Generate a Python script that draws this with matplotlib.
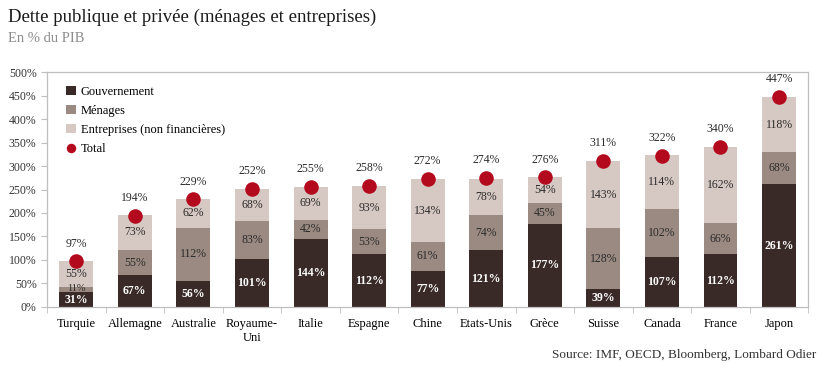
import numpy as np
import matplotlib.pyplot as plt
from matplotlib.ticker import FuncFormatter, FixedLocator

plt.rcParams['font.family'] = ['Liberation Serif', 'DejaVu Serif']

pays = ['Turquie', 'Allemagne', 'Australie', 'Royaume-\nUni', 'Italie', 'Espagne', 'Chine',
        'Etats-Unis', 'Grèce', 'Suisse', 'Canada', 'France', 'Japon']
gouvernement = [31, 67, 56, 101, 144, 112, 77, 121, 177, 39, 107, 112, 261]
menages = [11, 55, 112, 83, 42, 53, 61, 74, 45, 128, 102, 66, 68]
entreprises = [55, 73, 62, 68, 69, 93, 134, 78, 54, 143, 114, 162, 118]
total = [97, 194, 229, 252, 255, 258, 272, 274, 276, 311, 322, 340, 447]

c_gov = '#3a2a27'
c_men = '#9b8a82'
c_ent = '#d6c8c2'
c_tot = '#b40a1e'
c_axe = '#bfbfbf'

fig = plt.figure(figsize=(8.24, 3.68), dpi=100)
ax = fig.add_axes([0.057, 0.166, 0.924, 0.638])

x = np.arange(len(pays))
w = 0.58
gov = np.array(gouvernement)
men = np.array(menages)
ent = np.array(entreprises)

b1 = ax.bar(x, gov, w, color=c_gov, label='Gouvernement', zorder=2)
b2 = ax.bar(x, men, w, bottom=gov, color=c_men, label='Ménages', zorder=2)
b3 = ax.bar(x, ent, w, bottom=gov + men, color=c_ent, label='Entreprises (non financières)', zorder=2)
sc = ax.scatter(x, total, s=110, color=c_tot, label='Total', zorder=4, linewidths=0)

for i in range(len(pays)):
    ax.text(x[i], gov[i] / 2, f'{gov[i]}%', ha='center', va='center', color='white',
            fontsize=8.5, fontweight='bold', zorder=5)
    # petit segment Turquie : texte plus petit
    fs = 7.5 if men[i] < 20 else 8.5
    ax.text(x[i], gov[i] + men[i] / 2 + (2 if men[i] < 20 else 0), f'{men[i]}%', ha='center',
            va='center', color='#2b2b2b', fontsize=fs, zorder=5)
    ax.text(x[i], gov[i] + men[i] + ent[i] / 2, f'{ent[i]}%', ha='center', va='center',
            color='#2b2b2b', fontsize=8.5, zorder=5)
    ax.annotate(f'{total[i]}%', (x[i], total[i]), xytext=(0, 8.5), textcoords='offset points',
                ha='center', va='bottom', fontsize=8.5, color='#2b2b2b')

ax.set_xlim(-0.5, len(pays) - 0.5)
ax.set_ylim(0, 500)
ax.set_yticks(np.arange(0, 501, 50))
ax.yaxis.set_major_formatter(FuncFormatter(lambda v, p: f'{int(v)}%'))
ax.set_xticks(x)
ax.set_xticklabels(pays, fontsize=9)
ax.xaxis.set_minor_locator(FixedLocator(np.arange(-0.5, len(pays), 1)))
ax.tick_params(axis='x', which='major', length=0, pad=8)
ax.tick_params(axis='x', which='minor', length=4, color=c_axe)
ax.tick_params(axis='y', length=4, color=c_axe, labelsize=8.5, labelcolor='#333333')
for s in ax.spines.values():
    s.set_color(c_axe)
    s.set_linewidth(0.9)

ax.legend([b1, b2, b3, sc], ['Gouvernement', 'Ménages', 'Entreprises (non financières)', 'Total'],
          loc='upper left', bbox_to_anchor=(0.01, 0.99), frameon=False, fontsize=9,
          handlelength=0.8, handleheight=0.8, handletextpad=0.4, labelspacing=0.55,
          scatterpoints=1, markerscale=0.65)

fig.text(0.01, 0.952, 'Dette publique et privée (ménages et entreprises)', fontsize=13.5,
         color='#1a1a1a', va='center')
fig.text(0.01, 0.895, 'En % du PIB', fontsize=10.5, color='#8c8c8c', va='center')
fig.text(0.99, 0.035, 'Source: IMF, OECD, Bloomberg, Lombard Odier', fontsize=9.5,
         color='#333333', ha='right', va='center')

fig.savefig('out.png', dpi=100)
